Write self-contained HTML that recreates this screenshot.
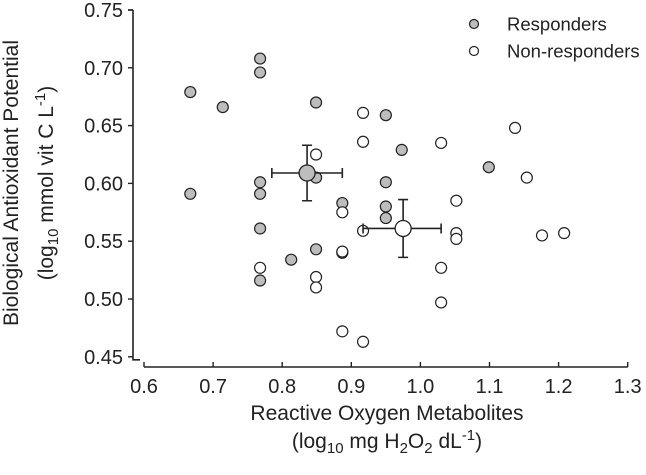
<!DOCTYPE html>
<html><head><meta charset="utf-8"><style>
body{margin:0;background:#fff;}
svg{display:block;font-family:"Liberation Sans",Arial,sans-serif;}
</style></head><body>
<svg id="chart" width="646" height="475">
<g id="axes"></g>
<g id="marks"></g>
<g>
<circle cx="474" cy="24" r="4.5" fill="#bdbdbd" stroke="#222" stroke-width="1.2"/>
<text x="507" y="30.5" font-size="18.5" fill="#222">Responders</text>
<circle cx="474" cy="51" r="4.5" fill="#fff" stroke="#222" stroke-width="1.2"/>
<text x="507" y="57.5" font-size="18.5" fill="#222">Non-responders</text>
</g>
<text x="387" y="420" font-size="21" text-anchor="middle" fill="#222">Reactive Oxygen Metabolites</text>
<text x="387" y="448" font-size="21" text-anchor="middle" fill="#222">(log<tspan font-size="15" dy="5">10</tspan><tspan dy="-5"> mg H</tspan><tspan font-size="15" dy="5">2</tspan><tspan dy="-5">O</tspan><tspan font-size="15" dy="5">2</tspan><tspan dy="-5"> dL</tspan><tspan font-size="15" dy="-8">-1</tspan><tspan dy="8">)</tspan></text>
<text transform="translate(18,183) rotate(-90)" font-size="21" text-anchor="middle" fill="#222">Biological Antioxidant Potential</text>
<text transform="translate(53,183) rotate(-90)" font-size="21" text-anchor="middle" fill="#222">(log<tspan font-size="15" dy="5">10</tspan><tspan dy="-5"> mmol vit C L</tspan><tspan font-size="15" dy="-8">-1</tspan><tspan dy="8">)</tspan></text>
</svg>
<script>
const xTicks=[0.6,0.7,0.8,0.9,1.0,1.1,1.2,1.3];
const xTickLabels=["0.6","0.7","0.8","0.9","1.0","1.1","1.2","1.3"];
const yTicks=[0.45,0.50,0.55,0.60,0.65,0.70,0.75];
const yTickLabels=["0.45","0.50","0.55","0.60","0.65","0.70","0.75"];
const respX=[0.667,0.714,0.768,0.768,0.849,0.950,0.667,0.768,0.768,0.768,0.768,0.813,0.849,0.887,0.950,0.950,0.950,0.887,0.849,0.973,1.099];
const respY=[0.679,0.666,0.708,0.696,0.670,0.659,0.591,0.601,0.591,0.561,0.516,0.534,0.543,0.583,0.601,0.580,0.570,0.540,0.605,0.629,0.614];
const nonX=[0.849,0.917,0.917,0.887,0.917,0.887,0.768,0.849,0.849,0.887,0.917,1.030,1.137,1.154,1.052,1.052,1.052,1.176,1.208,1.030,1.030];
const nonY=[0.625,0.661,0.636,0.575,0.559,0.541,0.527,0.519,0.510,0.472,0.463,0.635,0.648,0.605,0.585,0.557,0.552,0.555,0.557,0.527,0.497];
const meanX=[0.836,0.975];
const meanY=[0.609,0.561];
const errXlo=[0.785,0.917], errXhi=[0.887,1.030];
const errYlo=[0.585,0.536], errYhi=[0.633,0.586];
const meanFill=["#bdbdbd","#fff"];

const X=v=>144+(v-0.6)*691;
const Y=v=>10+(0.75-v)*1156;
const AXY=367;
const NS="http://www.w3.org/2000/svg";
function mk(parent,tag,attrs){const e=document.createElementNS(NS,tag);for(const k in attrs)e.setAttribute(k,attrs[k]);parent.appendChild(e);return e;}
const axes=document.getElementById('axes'),marks=document.getElementById('marks');
let e;
e=mk(axes,'path',{d:`M133,${Y(0.75)}H128M133,${Y(0.75)}V${Y(0.45)+3}H140`,stroke:'#222','stroke-width':1.6,fill:'none'});


e=mk(axes,'line',{x1:X(0.6),x2:X(1.3),y1:AXY,y2:AXY,stroke:'#222','stroke-width':1.6});


yTicks.forEach((v,i)=>{
 e=mk(axes,'line',{x1:128,x2:133,y1:Y(v),y2:Y(v),stroke:'#222','stroke-width':1.4});
 
 
 e=mk(axes,'text',{x:123,y:Y(v)+7,'font-size':20,'text-anchor':'end',fill:'#222'});
 e.textContent=yTickLabels[i];
 
 
});
xTicks.forEach((v,i)=>{
 e=mk(axes,'line',{x1:X(v),x2:X(v),y1:AXY-5,y2:AXY,stroke:'#222','stroke-width':1.4});
 
 
 e=mk(axes,'text',{x:X(v),y:393,'font-size':20,'text-anchor':'middle',fill:'#222'});
 e.textContent=xTickLabels[i];
 
 
});
respX.forEach((v,i)=>{
 e=mk(marks,'circle',{cx:X(v),cy:Y(respY[i]),r:5.5,fill:'#bdbdbd',stroke:'#222','stroke-width':1.2});
 
 
});
nonX.forEach((v,i)=>{
 e=mk(marks,'circle',{cx:X(v),cy:Y(nonY[i]),r:5.5,fill:'#fff',stroke:'#222','stroke-width':1.2});
 
 
});
meanX.forEach((v,i)=>{
 const cx=X(v),cy=Y(meanY[i]),x1=X(errXlo[i]),x2=X(errXhi[i]),y1=Y(errYhi[i]),y2=Y(errYlo[i]);
 e=mk(marks,'path',{d:`M${x1},${cy}H${x2}M${x1},${cy-5}V${cy+5}M${x2},${cy-5}V${cy+5}M${cx},${y1}V${y2}M${cx-5},${y1}H${cx+5}M${cx-5},${y2}H${cx+5}`,stroke:'#222','stroke-width':1.6,fill:'none'});
 
 
 e=mk(marks,'circle',{cx:cx,cy:cy,r:8,fill:meanFill[i],stroke:'#222','stroke-width':1.3});
 
 
});
</script>
</body></html>
